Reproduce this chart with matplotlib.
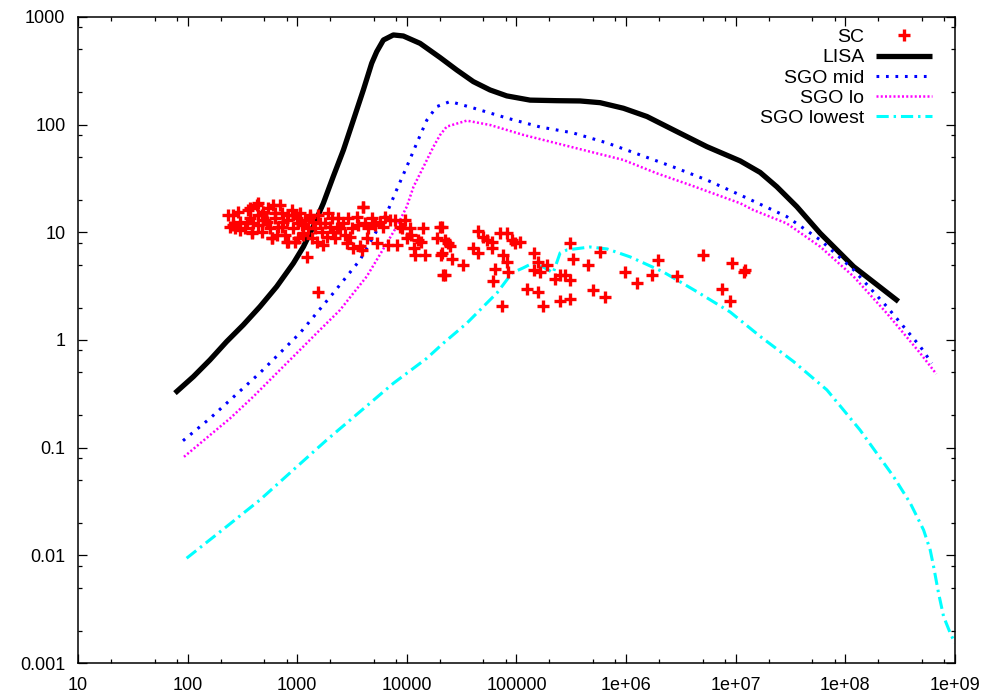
import matplotlib
matplotlib.use("Agg")
import matplotlib.pyplot as plt
from matplotlib.ticker import LogLocator, NullFormatter

plt.rcParams['font.family'] = ['Liberation Sans', 'DejaVu Sans']

# SC scatter points
sc_x = [235, 244, 290, 301, 334, 358, 371, 384, 427, 442, 442, 491, 508, 545, 565, 585, 605, 627,
        673, 697, 721, 747, 773, 800, 829, 889, 920, 953, 988, 1060, 1100, 1140, 1180, 1220, 1260,
        1310, 1350, 1400, 1450, 1500, 1560, 1670, 1730, 1790, 1850, 1920, 1990, 2060, 2130, 2210,
        2370, 2450, 2630, 2720, 2820, 2920, 3130, 3250, 3480, 3600, 3730, 3870, 4010, 4150, 4300,
        4450, 4770, 5120, 5300, 5680, 6100, 6310, 6770, 7010, 7780, 8070, 8650, 8950, 9610, 9950,
        10700, 11000, 11500, 11900, 12700, 13600, 14100, 14600, 18700, 20000, 20700, 21500, 1560,
        259, 301, 387, 439, 589, 824, 3980, 270, 398, 474, 649, 1020, 1610, 2290, 3030,
        261, 346, 371, 474, 526, 627, 721, 802, 923, 1020, 1140, 1310,
        20800, 22300, 23900, 24800, 20800, 25600, 22300, 32800, 45000, 49900, 53500, 59400, 40500,
        45000, 70800, 81500, 90600, 97100, 108000, 59400, 76000, 81500, 84300, 63800, 61700, 73500,
        124000, 143000, 158000, 143000, 164000, 189000, 158000, 176000, 225000, 250000, 277000,
        308000, 308000, 331000, 250000, 308000, 453000, 504000, 643000, 579000, 979000, 1.25e6,
        1.71e6, 1.97e6, 2.90e6, 5.08e6, 7.46e6, 9.2e6, 8.9e6, 1.18e7, 1.22e7]
sc_y = [14.5, 11.3, 15.6, 12.6, 10.9, 16.1, 13.5, 9.8, 17.9, 14.5, 11.7, 15.6, 13.0, 16.7, 10.9, 8.8,
        17.9, 13.5, 11.3, 17.9, 15.0, 12.6, 9.5, 8.2, 14.5, 16.1, 10.9, 8.2, 13.5, 15.0, 11.7, 9.5,
        13.0, 5.9, 10.9, 14.5, 8.8, 12.6, 10.9, 8.2, 14.5, 10.1, 7.6, 12.1, 9.1, 15.0, 11.3, 13.5,
        10.1, 8.8, 13.5, 10.9, 12.1, 9.5, 7.9, 13.5, 10.9, 7.1, 14.0, 11.7, 7.4, 6.9, 17.3, 12.1,
        8.8, 10.9, 13.5, 11.7, 7.9, 12.6, 11.3, 14.0, 7.6, 13.0, 13.0, 7.6, 11.3, 10.9, 13.0, 8.8,
        10.9, 9.5, 7.1, 6.2, 8.5, 8.2, 10.9, 6.2, 8.8, 11.3, 6.2, 4.0, 2.8,
        11.7, 10.5, 10.1, 18.7, 8.9, 8.1, 17.2, 10.9, 12.1, 10.1, 9.5, 8.8, 12.1, 10.9, 9.1,
        14.5, 12.1, 16.7, 14.5, 12.6, 15.0, 11.3, 13.0, 14.5, 12.1, 9.8, 14.0,
        11.3, 8.5, 7.9, 7.4, 6.4, 5.7, 4.0, 5.0, 10.2, 9.1, 8.5, 8.2, 7.1,
        6.4, 9.8, 9.8, 8.5, 7.9, 8.2, 7.1, 6.2, 5.3, 4.3, 4.6, 3.5, 2.05,
        3.0, 6.4, 5.3, 4.5, 4.3, 5.0, 2.8, 2.05, 3.7, 4.0, 4.0,
        3.6, 7.9, 5.7, 2.3, 2.4, 5.0, 2.9, 2.5, 6.6, 4.3, 3.4,
        4.0, 5.5, 3.9, 6.2, 3.0, 5.2, 2.3, 4.3, 4.5]

lisa_x = [76.7, 113, 160, 227, 322, 457, 649, 922, 1140, 1400, 1730, 2130, 2640, 3250, 4010,
          4780, 5310, 6110, 7530, 9290, 13200, 20100, 28500, 40400, 57400, 81500, 133000, 233000,
          380000, 579000, 946000, 1.55e6, 2.71e6, 5.45e6, 1.1e7, 1.67e7, 2.37e7, 3.61e7, 5.89e7,
          1.19e8, 3.05e8]
lisa_y = [0.321, 0.457, 0.653, 0.966, 1.38, 2.04, 3.13, 5.16, 7.36, 11.3, 18.6, 32.9, 58.2, 110,
          210, 372, 476, 611, 681, 666, 569, 420, 322, 251, 210, 185, 169, 167, 166, 160, 142,
          119, 89.3, 62.5, 46, 36, 26.5, 17.3, 9.8, 4.8, 2.28]

mid_x = [90.8, 160, 457, 1060, 2130, 3740, 6550, 8070, 9980, 12300, 15200, 18700,
         24800, 40200, 82100, 164000, 328000, 671000, 1.34e6, 2.69e6, 5.45e6, 1.1e7, 1.45e7,
         2.92e7, 5.89e7, 1.19e8, 2.39e8, 4.82e8, 6.15e8]
mid_y = [0.116, 0.187, 0.495, 1.16, 2.72, 5.54, 15.0, 24.8, 40.7, 67.1, 110, 147,
         164, 143, 115, 95.2, 83.8, 67.6, 52.4, 40.5, 30.6, 22.2, 19.5, 14.0, 8.5, 4.48, 2.04,
         0.869, 0.608]

lo_x = [92.7, 244, 398, 649, 1060, 1610, 2460, 3250, 4300, 5310, 6550, 8070, 9980, 11500, 14200,
        17500, 20100, 23100, 35200, 57400, 116000, 233000, 470000, 946000, 1.91e6, 3.84e6,
        1.1e7, 1.45e7, 2.92e7, 5.89e7, 1.19e8, 2.39e8, 4.82e8, 6.75e8]
lo_y = [0.0822, 0.187, 0.298, 0.491, 0.809, 1.24, 1.90, 2.72, 3.88, 5.54, 7.91, 11.3, 17.3, 26.5,
        40.7, 62.5, 80.2, 95.9, 109, 99.3, 80.2, 67.1, 56.1, 47.0, 35.3, 27.5, 18.6, 16.1, 12.1,
        7.36, 3.88, 1.77, 0.753, 0.484]

lowest_x = [98, 227, 457, 922, 1860, 3740, 7530, 15200, 21500, 35200, 57400, 66500, 91200,
            115000, 142000, 175000, 216000, 250000, 290000, 469000, 671000, 1.09e6, 2.18e6,
            4.45e6, 8.89e6, 1.67e7, 3.37e7, 6.78e7, 1.36e8, 2.75e8, 3.91e8, 5.17e8, 5.94e8,
            6.38e8, 7.08e8, 7.87e8, 9.06e8, 1e9]
lowest_y = [0.0094, 0.0185, 0.0327, 0.0622, 0.118, 0.216, 0.396, 0.676, 0.933, 1.43, 2.36, 2.74,
            4.20, 4.67, 5.20, 4.77, 4.20, 6.44, 6.87, 7.31, 7.01, 5.91, 4.29, 2.80, 1.82, 1.08,
            0.630, 0.344, 0.146, 0.0539, 0.0305, 0.0172, 0.0112, 0.00787, 0.00445, 0.00270,
            0.00189, 0.00153]

x_ticks = [10, 100, 1000, 1e4, 1e5, 1e6, 1e7, 1e8, 1e9]
x_labels = ['10', '100', '1000', '10000', '100000', '1e+06', '1e+07', '1e+08', '1e+09']
y_ticks = [0.001, 0.01, 0.1, 1, 10, 100, 1000]
y_labels = ['0.001', '0.01', '0.1', '1', '10', '100', '1000']

fig = plt.figure(figsize=(9.88, 6.99), dpi=100)
ax = fig.add_axes([0.0789, 0.0515, 0.8877, 0.9242])

ax.plot(sc_x, sc_y, '+', color='red', markersize=8.5, mew=2.4, label='SC', zorder=3)
ax.plot(lisa_x, lisa_y, color='black', lw=3.8, label='LISA', solid_capstyle='butt',
        solid_joinstyle='round')
ax.plot(mid_x, mid_y, color='blue', lw=2.2, linestyle=(0, (0.9, 2.2)), label='SGO mid')
ax.plot(lo_x, lo_y, color='magenta', lw=1.8, linestyle=(0, (0.8, 0.9)), label='SGO lo')
ax.plot(lowest_x, lowest_y, color='cyan', lw=2.2, linestyle=(0, (4, 1.6, 0.8, 1.6)),
        label='SGO lowest')

ax.set_xscale('log')
ax.set_yscale('log')
ax.set_xlim(10, 1e9)
ax.set_ylim(0.001, 1000)
ax.set_xticks(x_ticks, x_labels)
ax.set_yticks(y_ticks, y_labels)
ax.xaxis.set_minor_locator(LogLocator(base=10, subs=(2, 5, 8), numticks=30))
ax.yaxis.set_minor_locator(LogLocator(base=10, subs=(2, 5, 8), numticks=30))
ax.xaxis.set_minor_formatter(NullFormatter())
ax.yaxis.set_minor_formatter(NullFormatter())
ax.tick_params(which='both', direction='in', top=True, right=True, labelsize=13, width=0.9)
ax.tick_params(which='major', length=6.5)
ax.tick_params(which='minor', length=3.2)
ax.tick_params(axis='y', pad=9)
ax.tick_params(axis='x', pad=10)
for s in ax.spines.values():
    s.set_linewidth(1.1)

ax.legend(loc='upper right', bbox_to_anchor=(0.974, 0.982), frameon=False, markerfirst=False,
          fontsize=14, handlelength=2.9, handletextpad=0.6, labelspacing=0.13,
          borderpad=0, borderaxespad=0, numpoints=1)

fig.savefig('out.png', dpi=100)
